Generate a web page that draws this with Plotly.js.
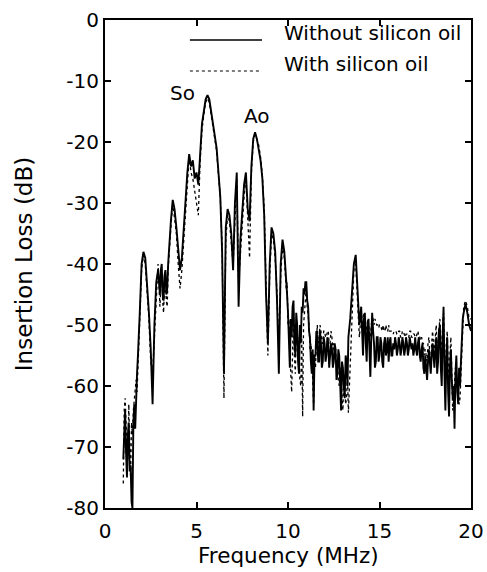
<!DOCTYPE html>
<html>
<head>
<meta charset="utf-8">
<script src="https://cdn.plot.ly/plotly-3.0.1.min.js"></script>
<style>html,body{margin:0;padding:0;background:#fff;}#chart{width:487px;height:572px;}</style>
</head>
<body>
<div id="chart"></div>
<script>
// Frequency (MHz)
const freq = [
1.00,1.05,1.10,1.15,1.20,1.25,1.30,1.35,1.40,1.45,1.50,1.55,1.60,1.65,1.70,1.75,1.80,1.85,
1.9,2.0,2.1,2.2,2.3,2.4,2.5,2.6,2.7,2.8,
2.90,2.95,3.00,3.05,3.10,3.15,3.20,3.25,3.30,3.35,3.40,3.45,
3.5,3.6,3.7,3.8,3.9,4.0,4.1,4.2,4.3,4.4,4.5,4.6,4.7,4.8,4.9,
5.0,5.1,5.2,5.3,5.4,5.5,5.6,5.7,5.8,5.9,6.0,6.1,6.2,6.3,6.4,
6.5,6.6,6.7,6.8,6.9,7.0,7.1,7.2,7.3,7.4,7.5,7.6,7.7,7.8,7.9,
8.0,8.1,8.2,8.3,8.4,8.5,8.6,8.7,8.8,8.9,9.0,9.1,9.2,9.3,9.4,
9.5,9.6,9.7,
9.80,9.85,9.90,9.95,10.00,10.05,10.10,10.15,10.20,10.25,10.30,10.35,10.40,10.45,10.50,
10.55,10.60,10.65,10.70,10.75,10.80,10.85,10.90,10.95,11.00,11.05,11.10,11.15,11.20,11.25,
11.30,11.35,11.40,11.45,11.50,11.55,11.60,11.65,11.70,11.75,11.80,11.85,11.90,11.95,12.00,
12.05,12.10,12.15,12.20,12.25,12.30,12.35,12.40,12.45,12.50,12.55,12.60,12.65,12.70,12.75,
12.80,12.85,12.90,12.95,13.00,13.05,13.10,13.15,13.20,13.25,13.30,
13.4,13.5,13.6,13.7,13.8,13.9,
14.00,14.05,14.10,14.15,14.20,14.25,14.30,14.35,14.40,14.45,14.50,14.55,14.60,14.65,14.70,
14.75,14.80,14.85,14.90,14.95,15.00,15.05,15.10,15.15,15.20,15.25,15.30,15.35,15.40,15.45,
15.50,15.55,15.60,15.65,15.70,15.75,15.80,15.85,15.90,15.95,16.00,16.05,16.10,16.15,16.20,
16.25,16.30,16.35,16.40,16.45,16.50,16.55,16.60,16.65,16.70,16.75,16.80,16.85,16.90,16.95,
17.00,17.05,17.10,17.15,17.20,17.25,17.30,17.35,17.40,17.45,17.50,17.55,17.60,17.65,17.70,
17.75,17.80,17.85,17.90,17.95,18.00,18.05,18.10,18.15,18.20,18.25,18.30,18.35,18.40,18.45,
18.50,18.55,18.60,18.65,18.70,18.75,18.80,18.85,18.90,18.95,19.00,19.05,19.10,19.15,19.20,
19.25,19.30,19.35,19.40,19.45,19.50,19.55,19.60,
19.7,19.8,19.9,20.0];

// Insertion loss without silicon oil (dB)
const withoutOil = [
-72,-66,-64,-71,-75,-68,-66,-74,-73,-79,-80,-66,-63,-67,-60,-58,-55,-52,
-48,-40,-38,-39,-43,-48,-54,-63,-50,-43,
-41,-44,-45,-41,-40,-45,-46,-42,-41,-45,-44,-40,
-37,-33,-29.5,-31,-34,-38,-41,-39,-34,-30,-25,-22,-24,-23,-26,
-25,-27,-22,-17,-15,-13,-12.3,-13,-15,-17,-19,-21,-25,-29,-38,
-58,-34,-31,-32,-35,-41,-30,-25,-47,-36,-32,-27,-25,-31,-33,
-24,-19.5,-18.4,-19.5,-21,-23,-26,-32,-45,-53,-40,-34,-35,-38,-46,
-58,-40,-36,
-38,-40,-42,-45,-48,-52,-57,-49,-52,-47,-46,-53,-55,-48,-50,
-56,-58,-50,-53,-47,-48,-44,-45,-43,-43,-46,-47,-51,-52,-56,
-58,-54,-64,-55,-55,-51,-52,-56,-56,-51,-53,-57,-56,-52,-53,
-56,-55,-52,-53,-57,-55,-53,-54,-57,-56,-53,-54,-59,-58,-54,
-55,-60,-64,-56,-57,-60,-62,-55,-56,-60,-52,
-49,-45,-40,-38.5,-44,-50,
-47,-51,-55,-49,-48,-53,-56,-50,-49,-54,-58.5,-52,-48,-51,-53,
-57,-56,-52,-52,-56,-55,-52,-53,-56,-57,-53,-52,-55,-54,-52,
-56,-53,-52,-55,-55,-53,-54,-52,-53,-55,-54,-52,-53,-55,-54,
-52,-53,-55,-54,-52,-53,-55,-54,-52,-53,-54,-53,-55,-54,-52,
-54,-55,-53,-52,-55,-56,-54,-53,-57,-58,-55,-57,-59,-56,-54,
-56,-58,-55,-53,-55,-57,-54,-52,-58,-56,-51,-50,-57,-60,-52,
-47,-58,-64,-56,-52,-61,-65,-57,-54,-59,-62,-60,-67,-58,-55,
-61,-63,-57,-60,-56,-52,-49,-48,
-46.5,-48,-50,-51];

// Insertion loss with silicon oil (dB)
const withOil = [
-76,-64,-62,-68,-70,-72,-63,-70,-75,-66,-68,-64,-62,-60,-59,-61,-56,-53,
-49,-41,-38.5,-40,-44,-49,-56,-58,-52,-45,
-40,-43,-47,-44,-42,-46,-48,-44,-43,-46,-47,-41,
-38,-34,-30,-33,-35,-40,-44,-41,-36,-31,-26,-22.5,-25,-26,-28,
-30,-32,-23,-18,-15.5,-13.5,-12.8,-13.5,-15.5,-17.5,-19.5,-21.5,-25.5,-29,-37,
-62,-36,-32,-33,-36,-40,-33,-26,-43,-38,-34,-29,-26,-33,-39,
-25,-20,-18.8,-19.5,-20.5,-22.5,-25.5,-31,-44,-55,-42,-35,-36,-39,-45,
-54,-42,-37,
-39,-42,-44,-43,-50,-49,-55,-58,-61,-50,-48,-55,-58,-51,-53,
-52,-56,-59,-60,-52,-65,-50,-48,-45,-44,-47,-49,-50,-54,-53,
-55,-59,-63,-56,-57,-53,-50,-53,-52,-50,-51,-53,-53,-51,-51,
-52,-52,-51,-51,-53,-53,-51,-52,-54,-53,-55,-54,-57,-56,-59,
-60,-57,-58,-62,-64,-58,-60,-63,-62,-58,-64.4,
-57,-47,-41,-40,-45,-52,
-48,-49,-50,-48,-49,-50,-51,-49,-50,-51,-52,-50,-49,-49,-50,
-49,-49.5,-50,-50,-50.5,-50,-50,-50.5,-51,-50,-51,-51,-50,-51,-51,
-50,-51,-51,-51,-51,-51.5,-51,-51,-51,-51.5,-51.5,-51,-51,-52,-52,
-51,-51,-51.5,-52,-51.5,-51.5,-52,-52,-51,-51,-52,-52,-51.5,-51.5,-52,
-52,-51.5,-51,-52,-52,-52.5,-52,-53,-53,-55,-54,-55,-56,-53,-52,
-55,-57,-53,-51,-53,-55,-52,-50,-54,-52,-50,-49,-53,-55,-50,
-48,-54,-58,-53,-51,-56,-60,-55,-52,-58,-64,-62,-60,-57,-58,
-59,-61,-63,-62,-58,-53,-50,-47,
-46,-47,-49,-49];

const xTicks = [0, 5, 10, 15, 20];
const yTicks = [0, -10, -20, -30, -40, -50, -60, -70, -80];
const seriesNames = ['Without silicon oil', 'With silicon oil'];
const seriesDash = ['solid', 'dot'];
const modeLabels = ['So', 'Ao'];
const modeFreq = [4.25, 8.3];
const modeLoss = [-12, -15.7];
const xTitle = 'Frequency (MHz)';
const yTitle = 'Insertion Loss (dB)';

const FONT = 'DejaVu Sans, Verdana, sans-serif';

const traces = [
  {x: freq, y: withoutOil, type: 'scatter', mode: 'lines', name: seriesNames[0],
   line: {color: '#000', width: 1.9, dash: seriesDash[0]}, showlegend: false},
  {x: freq, y: withOil, type: 'scatter', mode: 'lines', name: seriesNames[1],
   line: {color: '#000', width: 1.3, dash: seriesDash[1]}, showlegend: false}
];

const axisCommon = {
  showline: true, linecolor: '#000', linewidth: 2, mirror: 'ticks',
  ticks: 'inside', ticklen: 6, tickwidth: 2, tickcolor: '#000',
  showgrid: false, zeroline: false,
  tickfont: {family: FONT, size: 20, color: '#000'}
};

// legend key placement (paper fractions)
const legendKeyX = [0.232, 0.429];
const legendTextX = 0.484;
const legendRowY = [0.959, 0.8955];
const legendTextDY = 0.014;

const shapes = seriesNames.map((n, i) => ({
  type: 'line', xref: 'paper', yref: 'paper',
  x0: legendKeyX[0], x1: legendKeyX[1], y0: legendRowY[i], y1: legendRowY[i],
  line: {color: '#000', width: i === 0 ? 1.5 : 1.2, dash: seriesDash[i]}
}));

const annotations = modeLabels.map((t, i) => ({
  x: modeFreq[i], y: modeLoss[i], xref: 'x', yref: 'y', text: t,
  showarrow: false, font: {family: FONT, size: 20, color: '#000'}
})).concat(seriesNames.map((n, i) => ({
  x: legendTextX, y: legendRowY[i] + legendTextDY, xref: 'paper', yref: 'paper',
  xanchor: 'left', yanchor: 'middle', text: n, showarrow: false,
  font: {family: FONT, size: 20, color: '#000'}
}))).concat([{
  x: 0.5, y: -0.097, xref: 'paper', yref: 'paper', xanchor: 'center', yanchor: 'middle',
  text: xTitle, showarrow: false, font: {family: FONT, size: 21.5, color: '#000'}
}]);

const layout = {
  width: 487, height: 572,
  margin: {l: 105, r: 16, t: 20, b: 64},
  paper_bgcolor: '#fff', plot_bgcolor: '#fff',
  font: {family: FONT, size: 20, color: '#000'},
  xaxis: Object.assign({}, axisCommon, {
    range: [0, 20], tickvals: xTicks, ticktext: xTicks.map(String),
    ticklabelstandoff: 4
  }),
  yaxis: Object.assign({}, axisCommon, {
    range: [-80, 0], tickvals: yTicks, ticktext: yTicks.map(String),
    title: {text: yTitle, font: {family: FONT, size: 23}, standoff: 27}
  }),
  showlegend: false,
  shapes: shapes,
  annotations: annotations
};

Plotly.newPlot('chart', traces, layout, {displayModeBar: false, staticPlot: true});
</script>
</body>
</html>
